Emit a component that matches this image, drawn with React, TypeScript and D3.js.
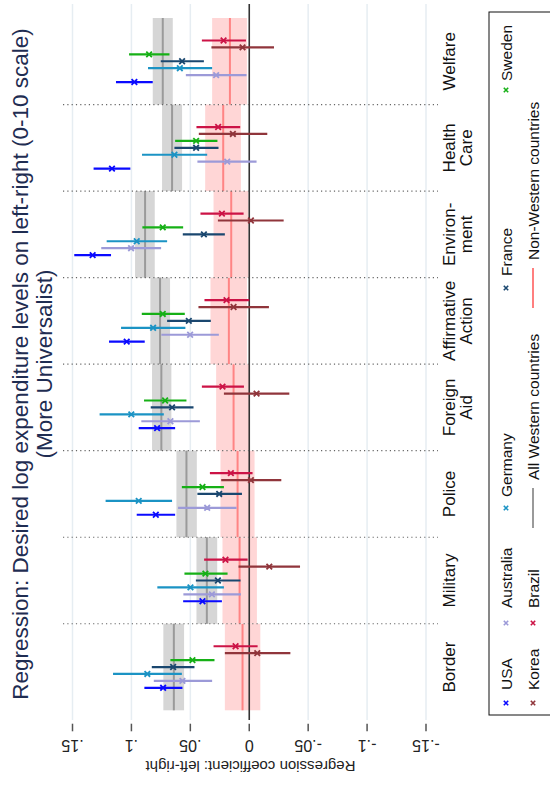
import React from 'react';
import * as d3 from 'd3';

// categories, in plotting order (left to right before the chart is turned)
const categories = ['Border', 'Military', 'Police', 'Foreign Aid', 'Affirmative Action', 'Environment', 'Health Care', 'Welfare'];
const categoryLines = [['Border'], ['Military'], ['Police'], ['Foreign', 'Aid'], ['Affirmative', 'Action'], ['Environ-', 'ment'], ['Health', 'Care'], ['Welfare']];

const countries = ['USA', 'Australia', 'Germany', 'France', 'Sweden', 'Korea', 'Brazil'];
const countryColors = ['#0a0aff', '#9c9ad8', '#1b93c4', '#1a476f', '#16b016', '#90353b', '#cc1346'];

// [estimate, lower, upper] per category
const usa = [[0.0731, 0.0567, 0.0890], [0.0397, 0.0232, 0.0561], [0.0793, 0.0629, 0.0955], [0.0782, 0.0629, 0.0938], [0.1040, 0.0887, 0.1190], [0.1329, 0.1173, 0.1485], [0.1165, 0.1009, 0.1321], [0.0975, 0.0819, 0.1131]];
const australia = [[0.0567, 0.0315, 0.0810], [0.0317, 0.0071, 0.0559], [0.0357, 0.0108, 0.0604], [0.0669, 0.0419, 0.0916], [0.0502, 0.0258, 0.0746], [0.1003, 0.0748, 0.1256], [0.0187, -0.0062, 0.0440], [0.0281, 0.0023, 0.0538]];
const germany = [[0.0865, 0.0572, 0.1156], [0.0499, 0.0215, 0.0780], [0.0938, 0.0655, 0.1219], [0.1001, 0.0725, 0.1270], [0.0816, 0.0542, 0.1088], [0.0955, 0.0697, 0.1210], [0.0635, 0.0357, 0.0910], [0.0589, 0.0315, 0.0859]];
const france = [[0.0646, 0.0465, 0.0827], [0.0266, 0.0074, 0.0453], [0.0255, 0.0062, 0.0440], [0.0655, 0.0473, 0.0836], [0.0513, 0.0326, 0.0697], [0.0385, 0.0207, 0.0564], [0.0451, 0.0261, 0.0635], [0.0570, 0.0385, 0.0751]];
const sweden = [[0.0482, 0.0295, 0.0669], [0.0372, 0.0184, 0.0550], [0.0397, 0.0215, 0.0572], [0.0714, 0.0533, 0.0893], [0.0734, 0.0547, 0.0912], [0.0734, 0.0561, 0.0907], [0.0451, 0.0270, 0.0629], [0.0850, 0.0677, 0.1020]];
const korea = [[-0.0068, -0.0349, 0.0207], [-0.0170, -0.0431, 0.0091], [-0.0014, -0.0272, 0.0238], [-0.0062, -0.0340, 0.0215], [0.0133, -0.0167, 0.0431], [-0.0014, -0.0292, 0.0266], [0.0139, -0.0153, 0.0428], [0.0057, -0.0210, 0.0321]];
const brazil = [[0.0116, -0.0071, 0.0303], [0.0202, 0.0014, 0.0383], [0.0156, -0.0028, 0.0334], [0.0227, 0.0045, 0.0402], [0.0193, 0.0000, 0.0380], [0.0232, 0.0048, 0.0414], [0.0264, 0.0077, 0.0448], [0.0218, 0.0028, 0.0402]];
const countrySeries = [usa, australia, germany, france, sweden, korea, brazil];

// pooled estimates
const western = [[0.0640, 0.0553, 0.0729], [0.0360, 0.0272, 0.0448], [0.0533, 0.0445, 0.0618], [0.0746, 0.0661, 0.0825], [0.0757, 0.0672, 0.0839], [0.0884, 0.0802, 0.0969], [0.0655, 0.0570, 0.0740], [0.0734, 0.0649, 0.0819]];
const nonWestern = [[0.0057, -0.0094, 0.0207], [0.0082, -0.0065, 0.0227], [0.0099, -0.0045, 0.0244], [0.0133, -0.0006, 0.0281], [0.0173, 0.0020, 0.0329], [0.0153, 0.0006, 0.0303], [0.0221, 0.0071, 0.0374], [0.0164, 0.0020, 0.0315]];

const yTicks = [0.15, 0.1, 0.05, 0, -0.05, -0.1, -0.15];
const yTickLabels = ['.15', '.1', '.05', '0', '-.05', '-.1', '-.15'];

const FONT = '"Liberation Sans", Arial, Helvetica, sans-serif';

// chart is drawn upright at 787 x 550, then turned a quarter to fit 550 x 787
const W = 787;
const plotTop = 63;
const plotBottom = 438;
const gridLeft = 67;
const gridRight = 783;

const x = d3.scaleBand<string>().domain(categories).range([76.7, 769]).padding(0);
const y = d3.scaleLinear().domain([-0.15, 0.15]).range([426, 72.5]);

const xMark = (s: number) => `M${-s},${-s}L${s},${s}M${-s},${s}L${s},${-s}`;

// legend layout: key centre and text start, by row
const legendItems = [
  { label: 'USA', kind: 'marker', color: countryColors[0], row: 0, key: 84, text: 97 },
  { label: 'Australia', kind: 'marker', color: countryColors[1], row: 0, key: 164, text: 179 },
  { label: 'Germany', kind: 'marker', color: countryColors[2], row: 0, key: 279, text: 290 },
  { label: 'France', kind: 'marker', color: countryColors[3], row: 0, key: 499, text: 511 },
  { label: 'Sweden', kind: 'marker', color: countryColors[4], row: 0, key: 697, text: 706 },
  { label: 'Korea', kind: 'marker', color: countryColors[5], row: 1, key: 84, text: 97 },
  { label: 'Brazil', kind: 'marker', color: countryColors[6], row: 1, key: 164, text: 179 },
  { label: 'All Western countries', kind: 'line', color: '#9a9a9a', row: 1, key: 279, text: 307 },
  { label: 'Non-Western countries', kind: 'line', color: '#ff7f7f', row: 1, key: 499, text: 527 },
];
const legendRowY = [506, 533];

export default function App() {
  const bw = x.bandwidth();
  const step = bw * 0.08;

  return (
    <div style={{ position: 'absolute', left: 0, top: 0, width: 550, height: 787, background: '#fff' }}>
      <svg width={550} height={787} style={{ display: 'block', fontFamily: FONT }}>
        <rect width={550} height={787} fill="#fff" />
        <g transform={`translate(0,${W}) rotate(-90)`}>
          {/* grid */}
          {yTicks.filter(t => t !== 0).map(t => (
            <line key={t} x1={gridLeft} x2={gridRight} y1={y(t)} y2={y(t)} stroke="#e6edf2" strokeWidth={1.5} />
          ))}

          {/* pooled bands */}
          {categories.map((c, i) => {
            const x0 = x(c)!;
            const [we, wl, wh] = western[i];
            const [ne, nl, nh] = nonWestern[i];
            return (
              <g key={c}>
                <rect x={x0} width={bw} y={y(wh)} height={y(wl) - y(wh)} fill="#d6d6d6" />
                <line x1={x0} x2={x0 + bw} y1={y(we)} y2={y(we)} stroke="#9a9a9a" strokeWidth={2} />
                <rect x={x0} width={bw} y={y(nh)} height={y(nl) - y(nh)} fill="#ffd6d6" />
                <line x1={x0} x2={x0 + bw} y1={y(ne)} y2={y(ne)} stroke="#ff8484" strokeWidth={2} />
              </g>
            );
          })}

          {/* zero line */}
          <line x1={gridLeft} x2={gridRight} y1={y(0)} y2={y(0)} stroke="#333" strokeWidth={1.6} />

          {/* category dividers */}
          {categories.slice(1).map(c => (
            <line key={c} x1={x(c)!} x2={x(c)!} y1={plotTop} y2={plotBottom} stroke="#666" strokeWidth={1.2} strokeDasharray="1.2,3.1" />
          ))}

          {/* country estimates */}
          {countrySeries.map((series, k) => (
            <g key={countries[k]}>
              {series.map(([est, lo, hi], i) => {
                const cx = x(categories[i])! + bw / 2 + (k - 3) * step;
                return (
                  <g key={i}>
                    <line x1={cx} x2={cx} y1={y(lo)} y2={y(hi)} stroke={countryColors[k]} strokeWidth={2.2} />
                    <path d={xMark(2.8)} transform={`translate(${cx},${y(est)})`} stroke={countryColors[k]} strokeWidth={1.8} fill="none" />
                  </g>
                );
              })}
            </g>
          ))}

          {/* value axis */}
          {yTicks.map((t, i) => (
            <g key={t}>
              <line x1={55.7} x2={63.3} y1={y(t)} y2={y(t)} stroke="#555" strokeWidth={1.5} />
              <text transform={`translate(47,${y(t)}) rotate(-90)`} textAnchor="middle" fontSize={16} fill="#222">{yTickLabels[i]}</text>
            </g>
          ))}
          <text transform={`translate(26,${(plotTop + plotBottom) / 2}) rotate(-90)`} textAnchor="middle" fontSize={15} fill="#222">
            Regression coefficient: left-right
          </text>

          {/* category labels */}
          {categories.map((c, i) => (
            <text key={c} x={x(c)! + bw / 2} y={455} textAnchor="middle" fontSize={17} fill="#111">
              {categoryLines[i].map((l, j) => (
                <tspan key={j} x={x(c)! + bw / 2} y={455 + j * 17}>{l}</tspan>
              ))}
            </text>
          ))}

          {/* title */}
          <text x={423} y={28.3} textAnchor="middle" fontSize={22.5} fill="#1f2d52">
            Regression: Desired log expenditure levels on left-right (0-10 scale)
          </text>
          <text x={423} y={51.7} textAnchor="middle" fontSize={22.5} fill="#1f2d52">
            (More Universalist)
          </text>

          {/* legend */}
          <rect x={72} y={489} width={703} height={100} fill="#fff" stroke="#111" strokeWidth={1} />
          {legendItems.map(it => {
            const ly = legendRowY[it.row];
            return (
              <g key={it.label}>
                {it.kind === 'marker' ? (
                  <path d={xMark(2.2)} transform={`translate(${it.key},${ly})`} stroke={it.color} strokeWidth={1.6} fill="none" />
                ) : (
                  <line x1={it.key - 20} x2={it.key + 20} y1={ly} y2={ly} stroke={it.color} strokeWidth={2} />
                )}
                <text x={it.text} y={ly + 5.6} fontSize={15.5} fill="#111">{it.label}</text>
              </g>
            );
          })}
        </g>
      </svg>
    </div>
  );
}
